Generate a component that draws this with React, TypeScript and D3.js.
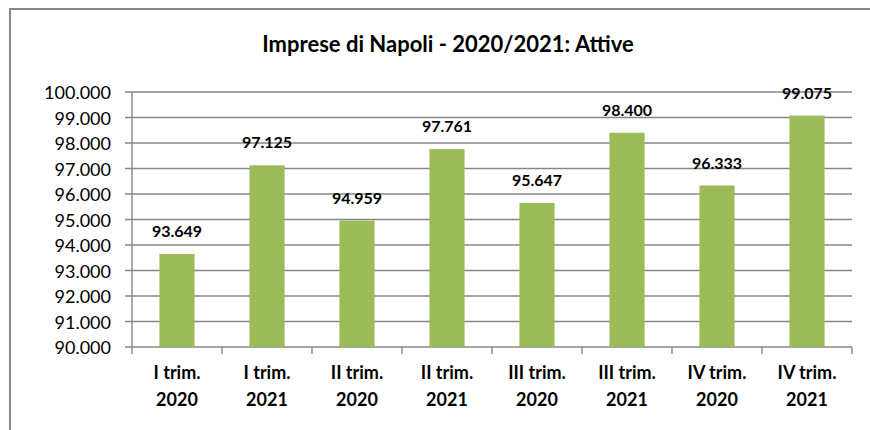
import React, { useEffect, useRef } from "react";
import * as d3 from "d3";

// data
const categories = [
  "I trim.|2020",
  "I trim.|2021",
  "II trim.|2020",
  "II trim.|2021",
  "III trim.|2020",
  "III trim.|2021",
  "IV trim.|2020",
  "IV trim.|2021",
];
const values = [93649, 97125, 94959, 97761, 95647, 98400, 96333, 99075];
const yTicks = [90000, 91000, 92000, 93000, 94000, 95000, 96000, 97000, 98000, 99000, 100000];
const title = "Imprese di Napoli - 2020/2021: Attive";

export default function App() {
  const ref = useRef(null);

  useEffect(() => {
    drawChart();
  }, []);

  function drawChart() {
    const width = 870;
    const height = 430;
    const font = "Lato, 'Open Sans', sans-serif";
    const grid = "#878787";

    const it = d3.formatLocale({
      decimal: ",",
      thousands: ".",
      grouping: [3],
      currency: ["€", ""],
    });
    const fmt = it.format(",");

    d3.select(ref.current).selectAll("*").remove();

    const svg = d3
      .select(ref.current)
      .append("svg")
      .attr("width", width)
      .attr("height", height)
      .style("position", "absolute")
      .style("left", 0)
      .style("top", 0)
      .style("background", "#fff");

    // outer frame (only left and top visible)
    svg
      .append("path")
      .attr("d", "M10,440 L10,9 L880,9")
      .attr("fill", "none")
      .attr("stroke", grid)
      .attr("stroke-width", 2);

    const x = d3
      .scaleBand()
      .domain(categories)
      .range([132, 852])
      .paddingInner(0.61)
      .paddingOuter(0.305);

    const y = d3.scaleLinear().domain([90000, 100000]).range([347, 92]);

    // title
    svg
      .append("text")
      .attr("x", 448)
      .attr("y", 52)
      .attr("text-anchor", "middle")
      .attr("font-family", font)
      .attr("font-weight", "bold")
      .attr("font-size", 22)
      .text(title);

    // gridlines + y ticks
    svg
      .append("g")
      .selectAll("line")
      .data(yTicks)
      .join("line")
      .attr("x1", 125)
      .attr("x2", 852)
      .attr("y1", (d) => y(d))
      .attr("y2", (d) => y(d))
      .attr("stroke", grid)
      .attr("stroke-width", 1.4);

    svg
      .append("g")
      .selectAll("text")
      .data(yTicks)
      .join("text")
      .attr("x", 111)
      .attr("y", (d) => y(d) + 7)
      .attr("text-anchor", "end")
      .attr("font-family", font)
      .attr("font-size", 18)
      .text((d) => fmt(d));

    // vertical axis
    svg
      .append("line")
      .attr("x1", 132)
      .attr("x2", 132)
      .attr("y1", y(100000))
      .attr("y2", y(90000))
      .attr("stroke", grid)
      .attr("stroke-width", 1.4);

    // x ticks at category boundaries
    const bounds = categories.map((c) => x(c) - (x.step() - x.bandwidth()) / 2);
    bounds.push(852);
    svg
      .append("g")
      .selectAll("line")
      .data(bounds)
      .join("line")
      .attr("x1", (d) => d)
      .attr("x2", (d) => d)
      .attr("y1", y(90000))
      .attr("y2", y(90000) + 7)
      .attr("stroke", grid)
      .attr("stroke-width", 1.4);

    // bars
    svg
      .append("g")
      .selectAll("rect")
      .data(values)
      .join("rect")
      .attr("x", (d, i) => x(categories[i]))
      .attr("width", x.bandwidth())
      .attr("y", (d) => y(d))
      .attr("height", (d) => y(90000) - y(d))
      .attr("fill", "#9BBB59");

    // value labels
    svg
      .append("g")
      .selectAll("text")
      .data(values)
      .join("text")
      .attr("x", (d, i) => x(categories[i]) + x.bandwidth() / 2)
      .attr("y", (d) => y(d) - 17)
      .attr("text-anchor", "middle")
      .attr("font-family", font)
      .attr("font-weight", "bold")
      .attr("font-size", 16)
      .text((d) => fmt(d));

    // category labels (two lines)
    const lab = svg
      .append("g")
      .selectAll("text")
      .data(categories)
      .join("text")
      .attr("text-anchor", "middle")
      .attr("font-family", font)
      .attr("font-weight", "bold")
      .attr("font-size", 18);
    lab
      .append("tspan")
      .attr("x", (d) => x(d) + x.bandwidth() / 2)
      .attr("y", 379)
      .text((d) => d.split("|")[0]);
    lab
      .append("tspan")
      .attr("x", (d) => x(d) + x.bandwidth() / 2)
      .attr("y", 406)
      .text((d) => d.split("|")[1]);
  }

  return <div ref={ref}></div>;
}
